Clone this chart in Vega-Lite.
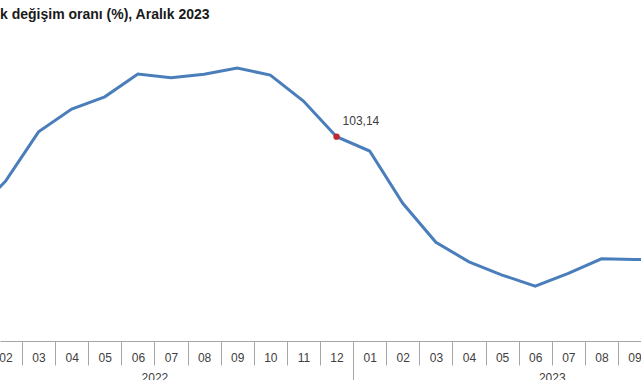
{
  "$schema": "https://vega.github.io/schema/vega-lite/v6.json",
  "width": 641,
  "height": 301,
  "autosize": {"type": "none"},
  "padding": {"left": 0, "top": 40, "right": 0, "bottom": 39},
  "background": "white",
  "config": {
    "view": {"stroke": null},
    "font": "Liberation Sans"
  },
  "title": {
    "text": "k değişim oranı (%), Aralık 2023",
    "anchor": "start",
    "frame": "group",
    "fontSize": 14,
    "fontWeight": "bold",
    "font": "Liberation Sans",
    "color": "#1a1a1a",
    "offset": 18
  },
  "data": {
    "values": [
      {"idx": 1, "month": "2022-01", "value": 71.8},
      {"idx": 2, "month": "2022-02", "value": 85.3},
      {"idx": 3, "month": "2022-03", "value": 105.1},
      {"idx": 4, "month": "2022-04", "value": 114.2},
      {"idx": 5, "month": "2022-05", "value": 119.1},
      {"idx": 6, "month": "2022-06", "value": 128.2},
      {"idx": 7, "month": "2022-07", "value": 126.7},
      {"idx": 8, "month": "2022-08", "value": 128.1},
      {"idx": 9, "month": "2022-09", "value": 130.6},
      {"idx": 10, "month": "2022-10", "value": 127.8},
      {"idx": 11, "month": "2022-11", "value": 117.4},
      {"idx": 12, "month": "2022-12", "value": 103.14},
      {"idx": 13, "month": "2023-01", "value": 97.4},
      {"idx": 14, "month": "2023-02", "value": 76.5},
      {"idx": 15, "month": "2023-03", "value": 60.9},
      {"idx": 16, "month": "2023-04", "value": 53.1},
      {"idx": 17, "month": "2023-05", "value": 47.8},
      {"idx": 18, "month": "2023-06", "value": 43.4},
      {"idx": 19, "month": "2023-07", "value": 48.5},
      {"idx": 20, "month": "2023-08", "value": 54.3},
      {"idx": 21, "month": "2023-09", "value": 54.0},
      {"idx": 22, "month": "2023-10", "value": 54.0}
    ]
  },
  "resolve": {"axis": {"x": "independent"}},
  "layer": [
    {
      "mark": {"type": "line", "color": "#4a7ebb", "strokeWidth": 3, "clip": true},
      "encoding": {
        "x": {
          "field": "idx",
          "type": "quantitative",
          "scale": {"domain": [1.836, 21.195], "nice": false, "zero": false},
          "axis": {
            "orient": "bottom",
            "title": null,
            "grid": false,
            "ticks": false,
            "values": [2, 3, 4, 5, 6, 7, 8, 9, 10, 11, 12, 13, 14, 15, 16, 17, 18, 19, 20, 21],
            "labelExpr": "pad(toString(((datum.value - 1) % 12) + 1), 2, '0', 'left')",
            "labelAlign": "center",
            "labelBaseline": "middle",
            "labelFlush": false,
            "labelOverlap": false,
            "labelBound": false,
            "labelFont": "Liberation Sans",
            "labelFontSize": 12,
            "labelColor": "#404040",
            "labelPadding": 16,
            "domainColor": "#a6a6a6",
            "domainWidth": 1
          }
        },
        "y": {
          "field": "value",
          "type": "quantitative",
          "scale": {"domain": [21.42, 141.82], "nice": false, "zero": false},
          "axis": null
        }
      }
    },
    {
      "transform": [{"filter": "datum.idx == 12"}],
      "mark": {"type": "point", "filled": true, "color": "#c0282d", "size": 40, "opacity": 1},
      "encoding": {
        "x": {
          "field": "idx",
          "type": "quantitative",
          "axis": {
            "orient": "bottom",
            "title": null,
            "grid": false,
            "domain": false,
            "labels": false,
            "values": [2.5, 3.5, 4.5, 5.5, 6.5, 7.5, 8.5, 9.5, 10.5, 11.5, 12.5, 13.5, 14.5, 15.5, 16.5, 17.5, 18.5, 19.5, 20.5],
            "tickSize": 24,
            "tickColor": "#a6a6a6",
            "tickWidth": 1
          }
        },
        "y": {"field": "value", "type": "quantitative"}
      }
    },
    {
      "transform": [{"filter": "datum.idx == 12"}],
      "mark": {"type": "text", "align": "left", "baseline": "middle", "dx": 6, "dy": -16, "fontSize": 12, "font": "Liberation Sans", "color": "#404040"},
      "encoding": {
        "x": {
          "field": "idx",
          "type": "quantitative",
          "axis": {
            "orient": "bottom",
            "title": null,
            "grid": false,
            "domain": false,
            "values": [6.5, 12.5, 18.5],
            "labelExpr": "datum.value == 6.5 ? '2022' : (datum.value == 18.5 ? '2023' : '')",
            "labelAlign": "center",
            "labelBaseline": "middle",
            "labelFlush": false,
            "labelOverlap": false,
            "labelBound": false,
            "labelFont": "Liberation Sans",
            "labelFontSize": 12,
            "labelColor": "#404040",
            "labelPadding": -9,
            "tickSize": 45,
            "tickColor": "#a6a6a6",
            "tickOpacity": {"condition": {"test": "datum.value == 12.5", "value": 1}, "value": 0}
          }
        },
        "y": {"field": "value", "type": "quantitative"},
        "text": {"value": "103,14"}
      }
    }
  ]
}
